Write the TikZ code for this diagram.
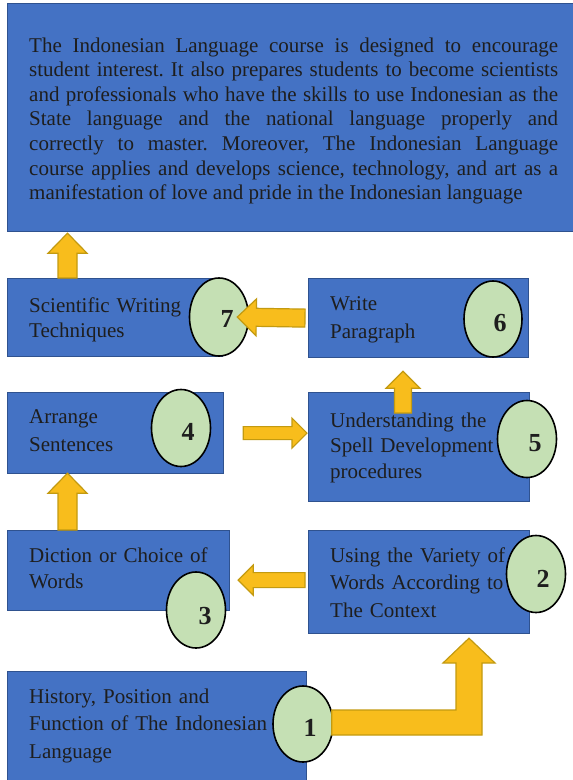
\documentclass[tikz,border=0pt]{standalone}
\usepackage{fontspec}
\setmainfont{Liberation Serif}
\usepackage{tikz}
\usetikzlibrary{shapes,arrows}
\usetikzlibrary{positioning}
\usetikzlibrary{calc}
\definecolor{boxblue}{HTML}{4472C4}
\definecolor{boxedge}{HTML}{2F528F}
\definecolor{circgreen}{HTML}{C5E0B4}
\definecolor{arrgold}{HTML}{F8BD1C}
\definecolor{arredge}{HTML}{C39A10}
\definecolor{inktext}{HTML}{1E1E1E}
\frenchspacing
\tikzstyle{box} = [draw=boxedge, fill=boxblue, line width=1.2pt, inner sep=0pt, anchor=north west]
\tikzstyle{step num} = [ellipse, draw=black, fill=circgreen, line width=1.6pt, inner sep=0pt]
\tikzstyle{blocktext} = [inner sep=0pt, anchor=base west, text width=240pt, align=left, text=inktext, font=\fontsize{21}{27}\selectfont]

\begin{document}
\begin{tikzpicture}[x=1pt, y=-1pt,
	blockarrow/.style n args={3}{draw=arredge, fill=arrgold, line width=1.2pt,
		to path={($(\tikztostart)!#1pt!90:(\tikztotarget)$)
			-- ($(\tikztotarget)!#3pt!(\tikztostart)!#1pt!90:(\tikztotarget)$)
			-- ($(\tikztotarget)!#3pt!(\tikztostart)!#2pt!90:(\tikztotarget)$)
			-- (\tikztotarget)
			-- ($(\tikztotarget)!#3pt!(\tikztostart)!#2pt!-90:(\tikztotarget)$)
			-- ($(\tikztotarget)!#3pt!(\tikztostart)!#1pt!-90:(\tikztotarget)$)
			-- ($(\tikztostart)!#1pt!-90:(\tikztotarget)$) -- cycle}},
	digit/.style={inner sep=0pt, text=inktext, font=\fontsize{26}{26}\selectfont\bfseries}]
	\useasboundingbox (0,0) rectangle (573,780);

	% boxes
	\node[box, minimum width=610pt, minimum height=228pt] (b0) at (7,3) {};
	\node[box, minimum width=215pt, minimum height=78pt] (b7) at (7,278) {};
	\node[box, minimum width=220pt, minimum height=79pt] (b6) at (308,278) {};
	\node[box, minimum width=216pt, minimum height=81pt] (b4) at (7,392) {};
	\node[box, minimum width=221pt, minimum height=109pt] (b5) at (308,392) {};
	\node[box, minimum width=222pt, minimum height=80pt] (b3) at (7,530) {};
	\node[box, minimum width=221pt, minimum height=103pt] (b2) at (308,530) {};
	\node[box, minimum width=299pt, minimum height=150pt] (b1) at (7,671) {};

	% texts
	\node[blocktext, text width=529pt, align=justify, font=\fontsize{21}{24.6}\selectfont] (t0) at ($(b0.north west)+(22,49)$)
		{The Indonesian Language course is designed to encourage\linebreak
		student interest. It also prepares students to become scientists\linebreak
		and professionals who have the skills to use Indonesian as the\linebreak
		State language and the national language properly and\linebreak
		correctly to master. Moreover, The Indonesian Language\linebreak
		course applies and develops science, technology, and art as a\linebreak
		manifestation of love and pride in the Indonesian language};
	\node[blocktext, font=\fontsize{21}{25}\selectfont] (t7) at ($(b7.north west)+(22,34)$) {Scientific Writing\\Techniques};
	\node[blocktext, font=\fontsize{21}{28}\selectfont] (t6) at ($(b6.north west)+(22,32)$) {Write\\Paragraph};
	\node[blocktext, font=\fontsize{21}{28.5}\selectfont] (t4) at ($(b4.north west)+(22,31)$) {Arrange\\Sentences};
	\node[blocktext, font=\fontsize{21}{25.5}\selectfont] (t5) at ($(b5.north west)+(22,35)$) {Understanding the\\Spell Development\\procedures};
	\node[blocktext, font=\fontsize{21}{26}\selectfont] (t3) at ($(b3.north west)+(22,32)$) {Diction or Choice of\\Words};
	\node[blocktext, font=\fontsize{21}{27.5}\selectfont] (t2) at ($(b2.north west)+(22,32)$) {Using the Variety of\\Words According to\\The Context};
	\node[blocktext, font=\fontsize{21}{27.5}\selectfont] (t1) at ($(b1.north west)+(22,32)$) {History, Position and\\Function of The Indonesian\\Language};

	% numbered circles
	\node[step num, minimum width=59pt, minimum height=78pt] (e7) at (219,317) {};
	\node[step num, minimum width=58pt, minimum height=76pt] (e6) at (493,319) {};
	\node[step num, minimum width=59pt, minimum height=77pt] (e5) at (527,439) {};
	\node[step num, minimum width=59pt, minimum height=77pt] (e4) at (181,428) {};
	\node[step num, minimum width=59pt, minimum height=76pt] (e3) at (196,610) {};
	\node[step num, minimum width=59pt, minimum height=77pt] (e2) at (536,574) {};
	\node[step num, minimum width=60pt, minimum height=76pt] (e1) at (303,724) {};
	\node[digit] (n7) at ($(e7)+(8,2)$) {7};
	\node[digit] (n6) at ($(e6)+(7,4)$) {6};
	\node[digit] (n5) at ($(e5)+(8,4)$) {5};
	\node[digit] (n4) at ($(e4)+(7,4)$) {4};
	\node[digit] (n3) at ($(e3)+(9,6)$) {3};
	\node[digit] (n2) at ($(e2)+(7,5)$) {2};
	\node[digit] (n1) at ($(e1)+(7,4)$) {1};

	% arrows
	\draw[blockarrow={9.5}{19.5}{20}] ($(b7.north west)+(60.5,0)$) to ($(b0.south west)+(60.5,1)$);
	\draw[blockarrow={9}{18.5}{19}] ($(b6.west)+(-3,0)$) to ($(e7.east)+(-12,0)$);
	\draw[blockarrow={8.5}{17}{17}] ($(b5.north west)+(95,21)$) to ($(b6.south west)+(95,13)$);
	\draw[blockarrow={6.5}{15}{15}] ($(b4.east)+(19,0)$) to ($(b4.east -| b5.west)+(-1,0)$);
	\draw[blockarrow={7.5}{15}{15}] ($(b2.west)+(-3,-2)$) to ($(b2.west -| b3.east)+(8,-2)$);
	\draw[blockarrow={9.5}{19.5}{20}] ($(b3.north west)+(60.5,0)$) to ($(b4.south west)+(60.5,-1)$);
	\coordinate (k12) at ($(e1.east -| b2.south west)+(161,-1.5)$);
	\draw[draw=arredge, fill=arrgold, line width=1.2pt] ($(e1.east)+(-2,-14)$) -- ($(k12)+(-13,-12.5)$)
		-- ($(k12)+(-13,-59.5)$) -- ($(k12)+(-26,-59.5)$) -- ($(b2.south west)+(161,4)$)
		-- ($(k12)+(26,-59.5)$) -- ($(k12)+(13,-59.5)$) -- ($(k12)+(13,12.5)$)
		-- ($(e1.east)+(-2,11)$) -- cycle;
\end{tikzpicture}
\end{document}
